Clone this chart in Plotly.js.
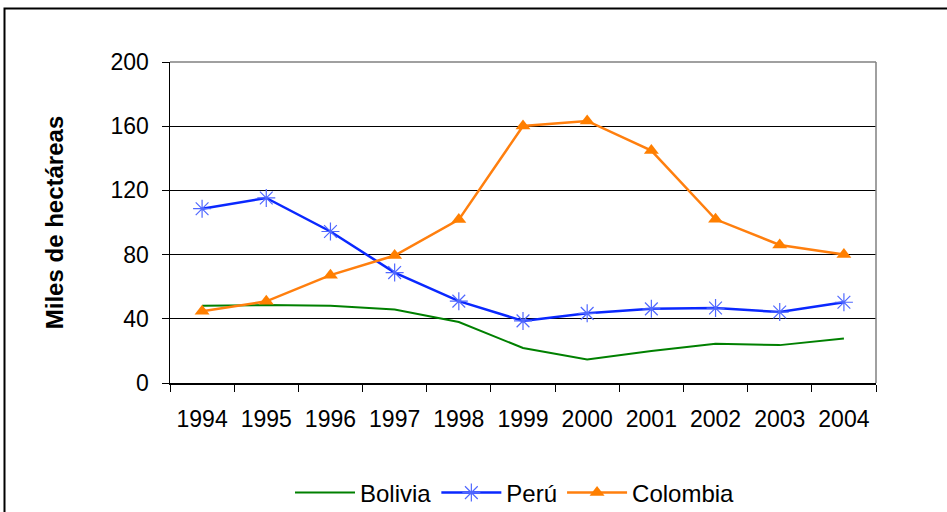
<!DOCTYPE html>
<html><head><meta charset="utf-8">
<script src="https://cdn.plot.ly/plotly-3.0.1.min.js"></script>
<style>html,body{margin:0;padding:0;background:#fff}#c{width:947px;height:512px}</style>
</head><body><div id="c"></div>
<script>
const years = ["1994","1995","1996","1997","1998","1999","2000","2001","2002","2003","2004"];
const bolivia = [48.1, 48.6, 48.1, 45.8, 38.0, 21.8, 14.6, 19.9, 24.4, 23.6, 27.7];
const peru = [108.6, 115.3, 94.4, 68.8, 51.0, 38.7, 43.4, 46.2, 46.7, 44.2, 50.3];
const colombia = [44.7, 50.9, 67.2, 79.4, 101.8, 160.1, 163.3, 144.8, 102.0, 86.0, 80.0];
const yTicks = [0, 40, 80, 120, 160, 200];

const L = 170, T = 62, W = 706, H = 321;
const px = v => (v - L) / W;
const py = v => (T + H - v) / H;

const traces = [
  {x: years, y: bolivia, name: "Bolivia", type: "scatter", mode: "lines",
   line: {color: "#008000", width: 2}},
  {x: years, y: peru, name: "Perú", type: "scatter", mode: "lines+markers",
   line: {color: "#0a28ff", width: 2.5},
   marker: {symbol: "asterisk-open", size: 15, color: "#5068ff", line: {color: "#5068ff", width: 1.2}}},
  {x: years, y: colombia, name: "Colombia", type: "scatter", mode: "lines+markers",
   line: {color: "#ff7f0e", width: 2.5},
   marker: {symbol: "triangle-up", size: 13, color: "#ff7f00"}}
];

const layout = {
  width: 947, height: 512,
  margin: {l: L, t: T, r: 947 - L - W, b: 512 - T - H},
  paper_bgcolor: "#fff", plot_bgcolor: "#fff",
  font: {family: "Liberation Sans, Arial, sans-serif", size: 23, color: "#000"},
  showlegend: true,
  legend: {orientation: "h", x: 0.5 - 8 / W, xanchor: "center", xref: "paper",
           yref: "container", y: 1 - 493 / 512, yanchor: "middle",
           font: {size: 24}, traceorder: "normal", itemwidth: 60},
  xaxis: {type: "category", tickson: "boundaries", ticks: "outside", ticklen: 7,
          tickcolor: "#000", showline: true, linecolor: "#000", linewidth: 1.5,
          showgrid: false, ticklabelstandoff: 15, tickfont: {size: 23},
          range: [-0.5, 10.5], automargin: false},
  yaxis: {range: [0, 200], tickvals: yTicks, ticks: "outside", ticklen: 7, tickcolor: "#000",
          showline: true, linecolor: "#000", linewidth: 1.5, showgrid: true, gridcolor: "#000",
          gridwidth: 1, zeroline: false, ticklabelstandoff: 8, tickfont: {size: 23},
          automargin: false,
          title: {text: "<b>Miles de hectáreas</b>", font: {size: 24}, standoff: 40}},
  shapes: [
    {type: "line", xref: "paper", yref: "paper", x0: 0, x1: 1, y0: 1, y1: 1,
     line: {color: "#808080", width: 1.5}, layer: "above"},
    {type: "line", xref: "paper", yref: "paper", x0: 1, x1: 1, y0: 0, y1: 1,
     line: {color: "#808080", width: 1.5}, layer: "above"},
    {type: "rect", xref: "paper", yref: "paper", x0: px(4.5), x1: px(960), y0: py(8.5), y1: py(530),
     line: {color: "#000", width: 2}, fillcolor: "rgba(0,0,0,0)", layer: "above"}
  ]
};

Plotly.newPlot("c", traces, layout, {displayModeBar: false, staticPlot: true});
</script></body></html>
